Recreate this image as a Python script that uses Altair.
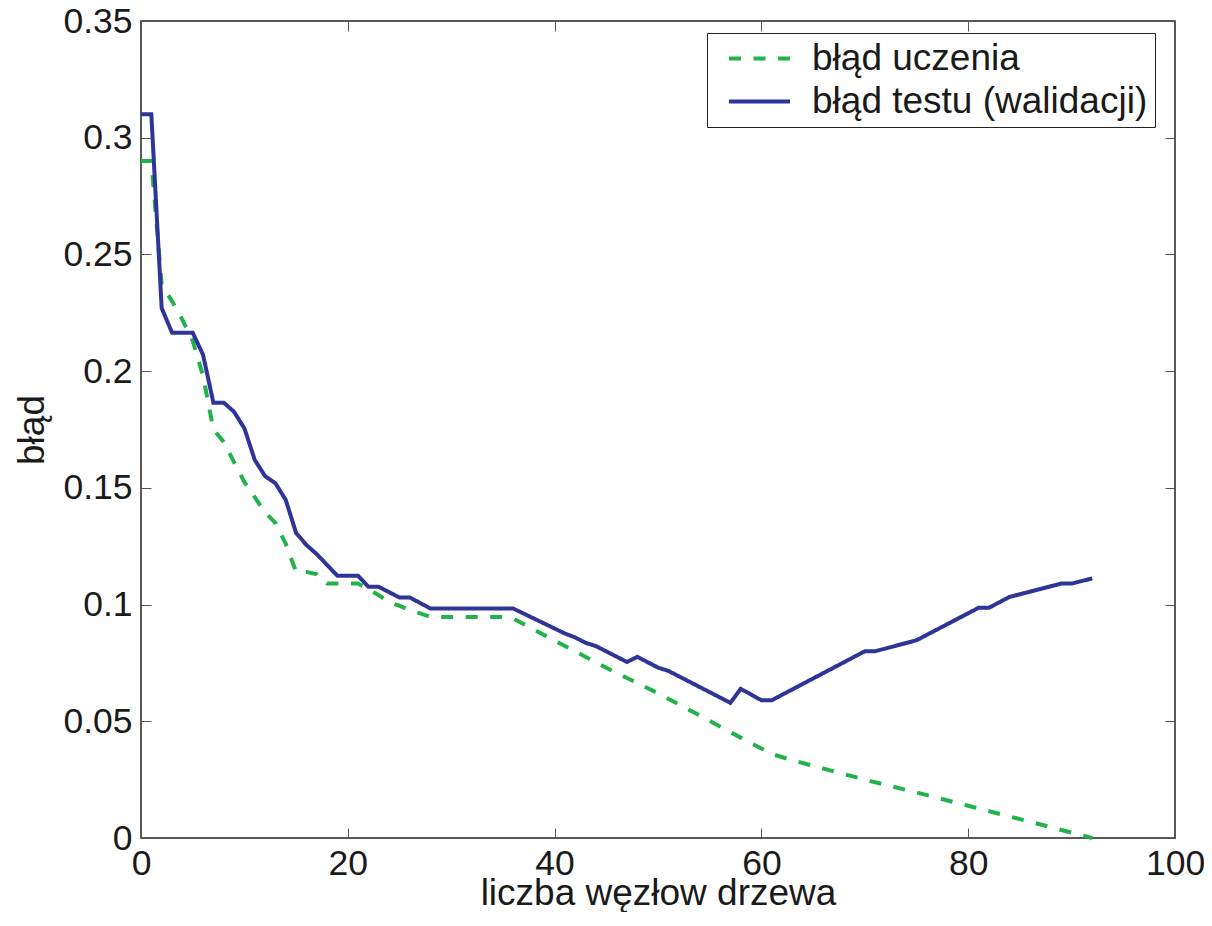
import altair as alt
import pandas as pd

# ---- data ----
series_names = ["błąd uczenia", "błąd testu (walidacji)"]
series_colors = ["#22b24c", "#2d3596"]

train_x = [0, 1, 2, 3, 4, 5, 6, 7, 8, 9, 10, 11, 12, 13, 14, 15, 16, 17, 18,
           19, 20, 21, 22, 23, 24, 25, 26, 27, 28, 35, 36, 40, 45, 50, 55, 58,
           61, 63, 70, 75, 80, 85, 90, 92]
train_y = [0.290, 0.290, 0.237, 0.230, 0.222, 0.213, 0.198, 0.175, 0.1697,
           0.161, 0.1525, 0.146, 0.1395, 0.135, 0.126, 0.114, 0.114, 0.113,
           0.109, 0.109, 0.109, 0.109, 0.1065, 0.104, 0.101, 0.0995, 0.0976,
           0.0962, 0.0947, 0.0947, 0.094, 0.0846, 0.0729, 0.062, 0.0502,
           0.043, 0.036, 0.0333, 0.025, 0.0195, 0.0138, 0.0081, 0.0023, 0.0]

test_x = [0, 1, 2, 3, 5, 6, 7, 8, 9, 10, 11, 12, 13, 14, 15, 16, 17, 19, 21,
          22, 23, 25, 26, 28, 36, 41, 42, 43, 44, 47, 48, 50, 51, 57, 58, 60,
          61, 70, 71, 75, 81, 82, 84, 89, 90, 92]
test_y = [0.310, 0.310, 0.227, 0.2165, 0.2165, 0.207, 0.1865, 0.1865, 0.1826,
          0.1755, 0.162, 0.155, 0.152, 0.1448, 0.1307, 0.1255, 0.1216, 0.1123,
          0.1123, 0.1076, 0.1076, 0.103, 0.103, 0.0983, 0.0983, 0.0876,
          0.0859, 0.0836, 0.0822, 0.0754, 0.0776, 0.073, 0.0716, 0.0579,
          0.0639, 0.059, 0.059, 0.080, 0.080, 0.0847, 0.0986, 0.0986, 0.1033,
          0.109, 0.109, 0.1112]

x_ticks = [0, 20, 40, 60, 80, 100]
y_ticks = [0, 0.05, 0.1, 0.15, 0.2, 0.25, 0.3, 0.35]

train_df = pd.DataFrame({"x": train_x, "y": train_y, "s": series_names[0]})
test_df = pd.DataFrame({"x": test_x, "y": test_y, "s": series_names[1]})

FONT = "Liberation Sans"
TICK_FS = 35.5
TITLE_FS = 37
LEG_FS = 37

xscale = alt.Scale(domain=[0, 100], nice=False)
yscale = alt.Scale(domain=[0, 0.35], nice=False)

legend = alt.Legend(
    title=None, orient="none", legendX=566, legendY=12, padding=7, rowPadding=5,
    symbolType="M-3,0H3", symbolSize=413, symbolOffset=27, symbolStrokeWidth=4,
    labelOffset=34, labelFont=FONT, labelFontSize=LEG_FS, labelColor="#1a1a1a",
    labelLimit=1000,
    strokeColor="#222222", fillColor="white", cornerRadius=0,
)

color = alt.Color("s:N", scale=alt.Scale(domain=series_names, range=series_colors),
                  legend=legend)
dash = alt.StrokeDash("s:N", scale=alt.Scale(domain=series_names, range=[[12, 12.5], [1, 0]]),
                      legend=legend)

common_axis = dict(grid=False, domain=False, tickSize=10, offset=-10,
                   tickColor="#555555", tickWidth=1, labelFlush=False)

train_layer = alt.Chart(train_df).mark_line(strokeWidth=4, strokeCap="butt").encode(
    x=alt.X("x:Q", scale=xscale,
            axis=alt.Axis(orient="bottom", values=x_ticks, title="liczba węzłow drzewa",
                          labelPadding=8, titleY=76, titleBaseline="alphabetic",
                          **common_axis)),
    y=alt.Y("y:Q", scale=yscale,
            axis=alt.Axis(orient="left", values=y_ticks, format="~g", title="błąd",
                          labelPadding=9, titleX=-108, titleBaseline="alphabetic",
                          **common_axis)),
    color=color,
    strokeDash=dash,
)

test_layer = alt.Chart(test_df).mark_line(strokeWidth=4, strokeCap="butt").encode(
    x=alt.X("x:Q", scale=xscale,
            axis=alt.Axis(orient="top", values=x_ticks, labels=False, title=None,
                          **common_axis)),
    y=alt.Y("y:Q", scale=yscale,
            axis=alt.Axis(orient="right", values=y_ticks, labels=False, title=None,
                          **common_axis)),
    color=color,
    strokeDash=dash,
)

chart = alt.layer(train_layer, test_layer).resolve_axis(
    x="independent", y="independent"
).properties(
    width=1034, height=817,
    autosize=alt.AutoSizeParams(type="none"),
    padding={"left": 133, "top": 13, "right": 29, "bottom": 74},
).configure(
    background="white",
).configure_view(
    stroke="#222222", strokeWidth=1.5,
).configure_axis(
    labelFont=FONT, labelFontSize=TICK_FS, labelColor="#1a1a1a",
    titleFont=FONT, titleFontSize=TITLE_FS, titleColor="#1a1a1a", titleFontWeight="normal",
)

chart.save("out.html", embed_options={"renderer": "svg", "actions": False})
